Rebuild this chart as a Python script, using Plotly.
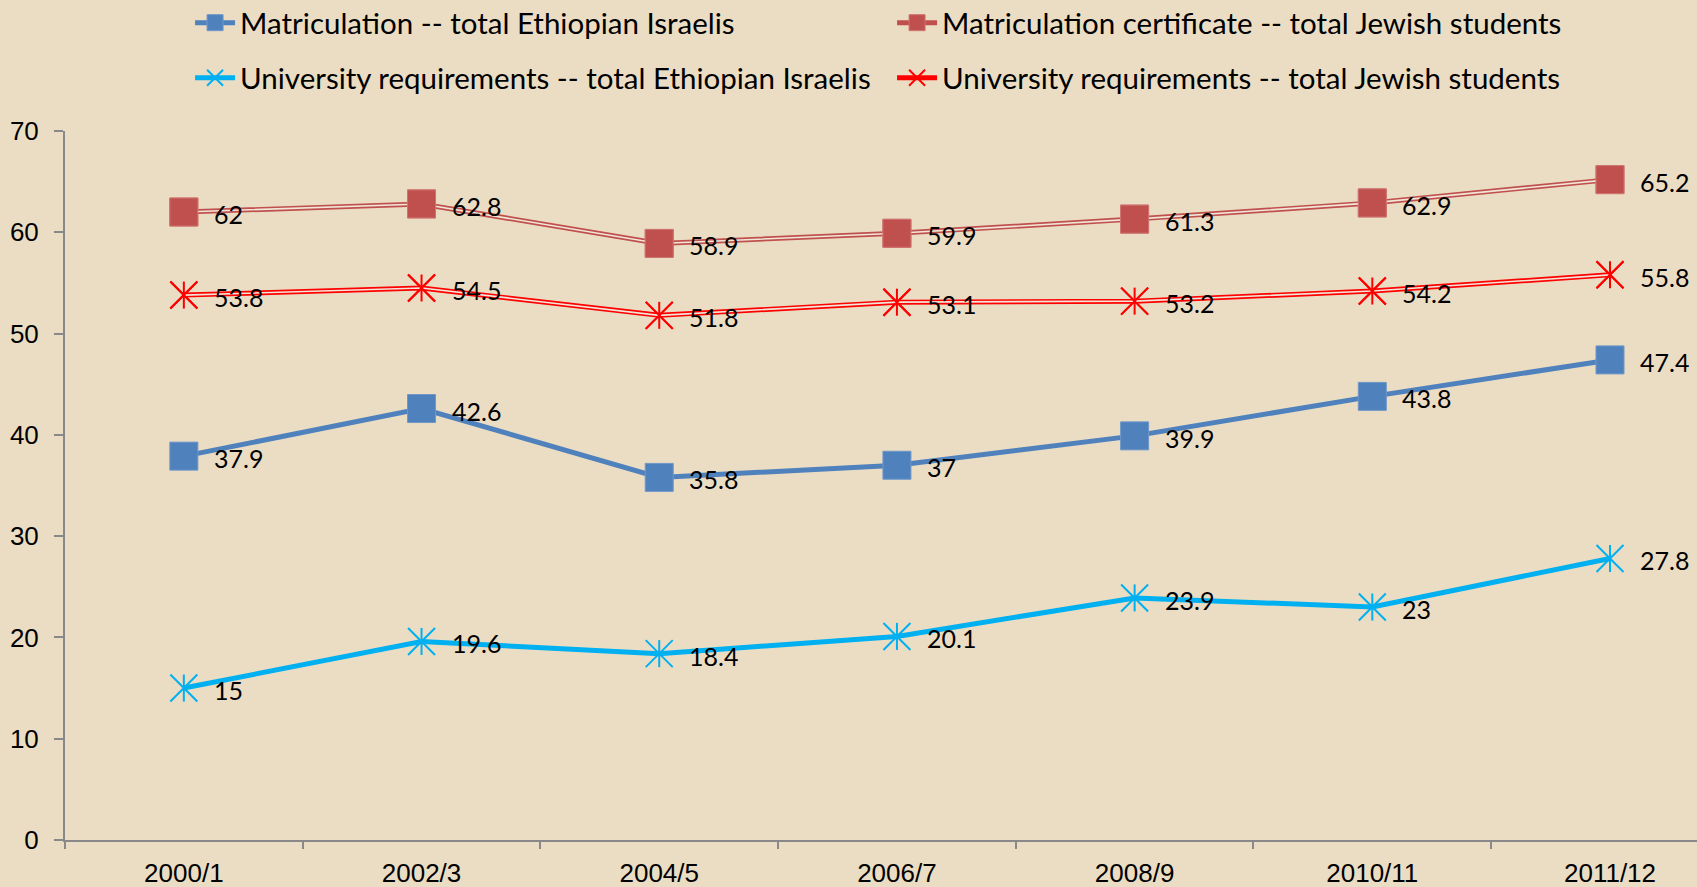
import plotly.graph_objects as go

years = ["2000/1", "2002/3", "2004/5", "2006/7", "2008/9", "2010/11", "2011/12"]
matric_eth = [37.9, 42.6, 35.8, 37, 39.9, 43.8, 47.4]
matric_jew = [62, 62.8, 58.9, 59.9, 61.3, 62.9, 65.2]
univ_eth = [15, 19.6, 18.4, 20.1, 23.9, 23, 27.8]
univ_jew = [53.8, 54.5, 51.8, 53.1, 53.2, 54.2, 55.8]
y_ticks = [0, 10, 20, 30, 40, 50, 60, 70]

BG = "#EBDDC3"
INNER = "#F1E7D9"
AXIS = "#898989"
BLUE = "#4F81BD"
BROWN = "#C0504D"
CYAN = "#00B0F0"
RED = "#FF0000"
LABEL_FONT = dict(family="Lato", size=25, color="black")

fig = go.Figure()

# matriculation, Ethiopian Israelis: thick blue line, squares
fig.add_trace(go.Scatter(
    x=years, y=matric_eth, mode="lines+markers", name="Matriculation -- total Ethiopian Israelis",
    line=dict(color=BLUE, width=5),
    marker=dict(symbol="square", size=28, color=BLUE, line=dict(color="#6F97C9", width=1)),
    legend="legend",
))

# matriculation, Jewish students: double line, squares
fig.add_trace(go.Scatter(
    x=years, y=matric_jew, mode="lines+markers", name="Matriculation certificate -- total Jewish students",
    line=dict(color=BROWN, width=5),
    marker=dict(symbol="square", size=28, color=BROWN, line=dict(color="#CF7472", width=1)),
    legend="legend",
))
fig.add_trace(go.Scatter(x=years, y=matric_jew, mode="lines", showlegend=False,
                         line=dict(color=INNER, width=1.6)))
fig.add_trace(go.Scatter(x=years, y=matric_jew, mode="markers", showlegend=False,
                         marker=dict(symbol="square", size=28, color=BROWN,
                                     line=dict(color="#CF7472", width=1))))

# university requirements, Ethiopian Israelis: cyan, star markers
fig.add_trace(go.Scatter(
    x=years, y=univ_eth, mode="lines+markers", name="University requirements -- total Ethiopian Israelis",
    line=dict(color=CYAN, width=5),
    marker=dict(symbol="x-thin-open", size=27, color=CYAN, line=dict(color=CYAN, width=2)),
    legend="legend2",
))
fig.add_trace(go.Scatter(x=years, y=univ_eth, mode="markers", showlegend=False,
                         marker=dict(symbol="line-ns-open", size=19.3, color=CYAN,
                                     line=dict(color=CYAN, width=2))))

# university requirements, Jewish students: red double line, star markers
fig.add_trace(go.Scatter(
    x=years, y=univ_jew, mode="lines+markers", name="University requirements -- total Jewish students",
    line=dict(color=RED, width=5),
    marker=dict(symbol="x-thin-open", size=27, color=RED, line=dict(color=RED, width=2)),
    legend="legend2",
))
fig.add_trace(go.Scatter(x=years, y=univ_jew, mode="lines", showlegend=False,
                         line=dict(color=INNER, width=1.6)))
fig.add_trace(go.Scatter(x=years, y=univ_jew, mode="markers", showlegend=False,
                         marker=dict(symbol="x-thin-open", size=27, color=RED,
                                     line=dict(color=RED, width=2))))
fig.add_trace(go.Scatter(x=years, y=univ_jew, mode="markers", showlegend=False,
                         marker=dict(symbol="line-ns-open", size=19.3, color=RED,
                                     line=dict(color=RED, width=2))))

# data labels right of each point
for series in (matric_eth, matric_jew, univ_eth, univ_jew):
    for yr, v in zip(years, series):
        fig.add_annotation(x=yr, y=v, text=f"{v:g}", showarrow=False,
                           xanchor="left", yanchor="middle", xshift=28, yshift=-2,
                           font=LABEL_FONT)

leg = dict(orientation="h", xref="container", yref="container", xanchor="left",
           yanchor="middle", entrywidth=647, entrywidthmode="pixels",
           bgcolor="rgba(0,0,0,0)", font=dict(family="Lato", size=29.5, color="black"),
           itemwidth=40)

fig.update_layout(
    width=1697, height=887,
    paper_bgcolor=BG, plot_bgcolor=BG,
    margin=dict(l=65, r=0, t=131, b=47),
    showlegend=True,
    legend=dict(leg, x=0.112, y=1 - 23 / 887),
    legend2=dict(leg, x=0.112, y=1 - 78 / 887),
    hovermode=False,
    xaxis=dict(
        type="category", range=[-0.5, 6.366],
        showline=True, linecolor=AXIS, linewidth=2,
        ticks="outside", tickson="boundaries", ticklen=7, tickcolor=AXIS, tickwidth=2,
        showgrid=False, zeroline=False, ticklabelstandoff=9,
        tickfont=dict(family="Liberation Sans", size=26, color="black"),
    ),
    yaxis=dict(
        range=[0, 70], tickvals=y_ticks,
        showline=True, linecolor=AXIS, linewidth=2,
        ticks="outside", ticklen=9, tickcolor=AXIS, tickwidth=2,
        showgrid=False, zeroline=False, ticklabelstandoff=10,
        tickfont=dict(family="Liberation Sans", size=26, color="black"),
    ),
)

fig.write_html("out.html", config={"displayModeBar": False},
               post_script="document.body.style.margin='0';")
